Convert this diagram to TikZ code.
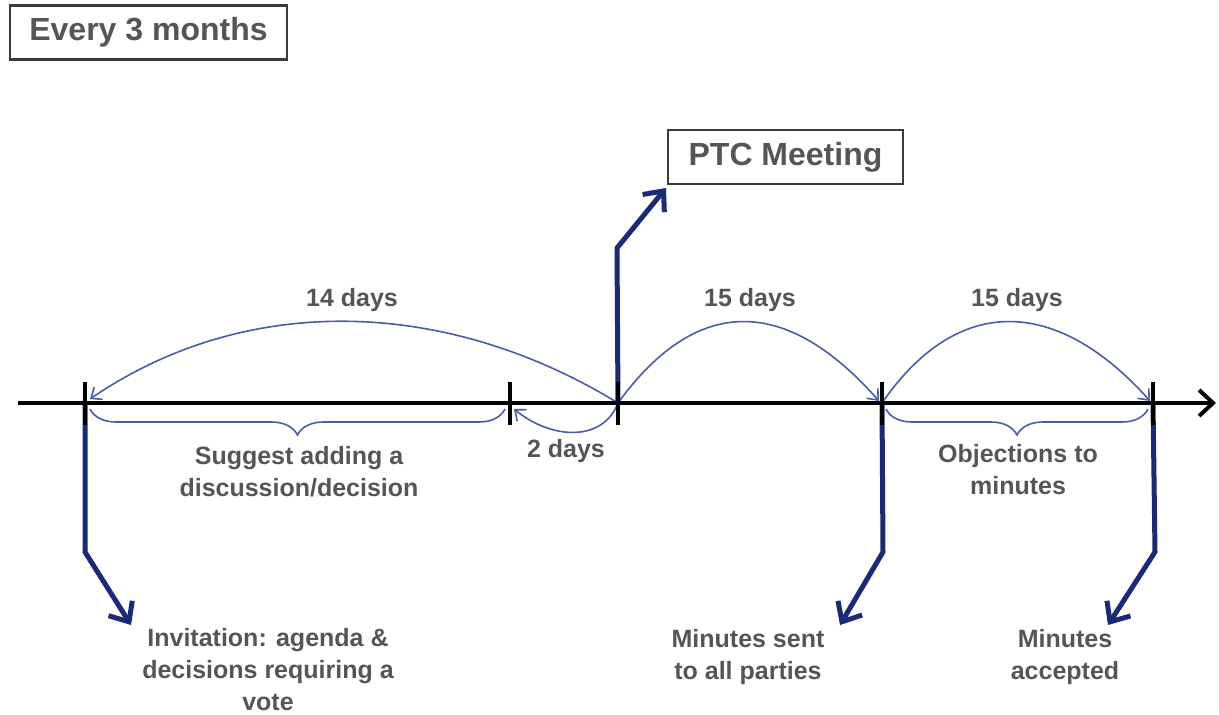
\documentclass[tikz,border=0pt]{standalone}
\usepackage{fontspec}
\setmainfont{Liberation Sans}
\usetikzlibrary{arrows.meta,decorations.pathreplacing,calc}
\definecolor{txtgray}{HTML}{555555}
\definecolor{boxline}{HTML}{3A3A3A}
\definecolor{navy}{HTML}{1B2A78}
\definecolor{steel}{HTML}{4A5CA6}
\tikzset{
  titlebox/.style={draw=boxline, line width=2.4pt, fill=white, text=txtgray,
    font=\fontsize{32}{36}\selectfont\bfseries, minimum width=#1, minimum height=54pt, inner sep=0pt},
  lbl/.style={text=txtgray, font=\fontsize{25}{32}\selectfont\bfseries, align=center, inner sep=0pt},
  axis/.style={line width=4pt, black, -{Straight Barb[length=14pt,width=26pt,line width=4pt]}},
  tick/.style={line width=4pt, black},
  pointer/.style={line width=5pt, navy, line cap=round, line join=round,
    -{Straight Barb[length=16pt,width=28pt,line width=5pt]}},
  span/.style={line width=1.6pt, steel, -{Straight Barb[length=9pt,width=15pt,line width=1.6pt]}},
  bracket/.style={line width=1.6pt, steel, decorate,
    decoration={brace, mirror, amplitude=26pt, aspect=0.5}}
}
\begin{document}
\begin{tikzpicture}[x=1pt, y=-1pt]
\useasboundingbox (0,0) rectangle (1219,715);

% timeline and its tick marks
\coordinate (start) at (18,403);
\coordinate (end) at (1216,403);
\coordinate (t1) at (85,403);
\coordinate (t2) at (510,403);
\coordinate (t3) at (618,403);
\coordinate (t4) at (882,403);
\coordinate (t5) at (1153,403);

% boxes
\node[titlebox=277pt] (every) at (148.5,32.5) {Every 3 months};
\node[titlebox=235pt] (ptc) at (785.5,157) {PTC Meeting};

% interval spans
\draw[span] (t3) .. controls (450,300) and (250,290) .. (90,399);
\draw[span] (t3) .. controls (700,290) and (790,300) .. (879,401);
\draw[span] (t4) .. controls (960,290) and (1060,300) .. (1150,401);
\draw[span] (t3) .. controls (603,442) and (552,440) .. (514,409);

\node[lbl] (d14) at (352,300) {14 days};
\node[lbl] (d15a) at (750,300) {15 days};
\node[lbl] (d15b) at (1017,300) {15 days};
\node[lbl] (d2) at (566,451) {2 days};

% braces below the timeline
\draw[bracket] (90,409) -- (505,409);
\draw[bracket] (886,409) -- (1148,409);
\node[lbl] (suggest) at (299,472) {Suggest adding a\\discussion/decision};
\node[lbl] (object) at (1018,470) {Objections to\\minutes};

% event labels
\node[lbl] (invite) at (268,670) {Invitation: agenda \&\\decisions requiring a\\vote};
\node[lbl] (sent) at (748,657) {Minutes sent\\to all parties};
\node[lbl] (accepted) at (1065,657) {Minutes\\accepted};

% pointer bends and tips
\coordinate (pb) at (617,248);
\coordinate (ptip) at (666,188);
\coordinate (ib) at (85,552);
\coordinate (itip) at (131,625);
\coordinate (sb) at (883,552);
\coordinate (stip) at (840,625);
\coordinate (ab) at (1155,552);
\coordinate (atip) at (1108,625);

\draw[pointer] (t3) -- (pb) -- (ptip);
\draw[pointer] (t1) -- (ib) -- (itip);
\draw[pointer] (t4) -- (sb) -- (stip);
\draw[pointer] (t5) -- (ab) -- (atip);

% axis drawn on top
\draw[axis] (start) -- (end);
\foreach \t in {t1,t2,t3,t4,t5}
  \draw[tick] ($(\t)+(0,-21)$) -- ($(\t)+(0,22)$);
\end{tikzpicture}
\end{document}
